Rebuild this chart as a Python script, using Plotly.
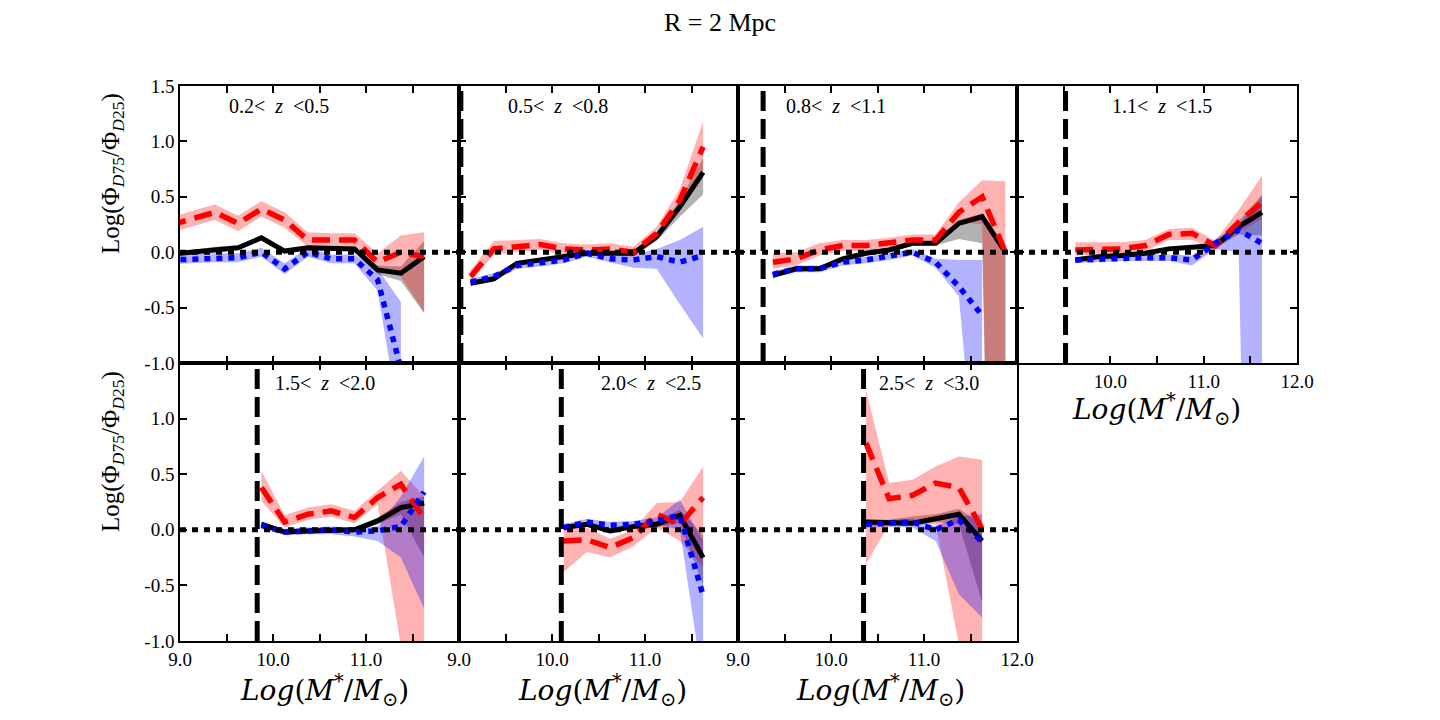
import plotly.graph_objects as go
from plotly.subplots import make_subplots

N = None

# stellar-mass bin centres, Log(M*/Msun)
mass = [8.875, 9.125, 9.375, 9.625, 9.875, 10.125, 10.375, 10.625, 10.875, 11.125, 11.375, 11.625, 11.875]

z_labels = ["0.2<\u2002<i>z</i>\u2002<0.5", "0.5<\u2002<i>z</i>\u2002<0.8", "0.8<\u2002<i>z</i>\u2002<1.1",
            "1.1<\u2002<i>z</i>\u2002<1.5", "1.5<\u2002<i>z</i>\u2002<2.0", "2.0<\u2002<i>z</i>\u2002<2.5",
            "2.5<\u2002<i>z</i>\u2002<3.0"]
z_label_x = [9.5, 9.5, 9.5, 10.0, 10.0, 10.5, 10.5]

# mass completeness limits (vertical dashed lines)
mass_limit = [N, 9.02, 9.27, 9.52, 9.83, 10.10, 10.35]

# all galaxies (black solid)
all_mid = [
    [-0.02, 0.00, 0.03, 0.04, 0.13, 0.01, 0.04, 0.03, 0.03, -0.16, -0.19, -0.04, N],
    [N, -0.28, -0.24, -0.10, -0.07, -0.04, -0.01, -0.01, -0.01, 0.14, 0.41, 0.72, N],
    [N, N, -0.21, -0.15, -0.15, -0.06, -0.01, 0.02, 0.08, 0.08, 0.26, 0.32, 0.00],
    [N, N, N, -0.07, -0.04, -0.03, -0.01, 0.03, 0.04, 0.06, 0.23, 0.36, N],
    [N, N, N, N, 0.05, -0.02, -0.01, 0.00, 0.00, 0.08, 0.20, 0.24, N],
    [N, N, N, N, N, 0.02, 0.05, -0.01, 0.03, 0.05, 0.13, -0.25, N],
    [N, N, N, N, N, N, 0.07, 0.06, 0.06, 0.10, 0.14, -0.10, N],
]
all_hi = [
    [0.00, 0.02, 0.05, 0.06, 0.15, 0.03, 0.06, 0.05, 0.05, -0.12, -0.13, 0.10, N],
    [N, -0.26, -0.22, -0.08, -0.05, -0.02, 0.01, 0.01, 0.01, 0.18, 0.47, 0.85, N],
    [N, N, -0.19, -0.13, -0.13, -0.04, 0.01, 0.04, 0.10, 0.10, 0.29, 0.35, 0.05],
    [N, N, N, -0.05, -0.02, -0.01, 0.01, 0.05, 0.06, 0.08, 0.28, 0.52, N],
    [N, N, N, N, 0.07, 0.00, 0.01, 0.02, 0.02, 0.11, 0.25, 0.30, N],
    [N, N, N, N, N, 0.04, 0.07, 0.01, 0.05, 0.08, 0.18, -0.05, N],
    [N, N, N, N, N, N, 0.09, 0.09, 0.12, 0.14, 0.19, 0.05, N],
]
all_lo = [
    [-0.04, -0.02, 0.01, 0.02, 0.11, -0.01, 0.02, 0.01, 0.01, -0.20, -0.26, -0.55, N],
    [N, -0.30, -0.26, -0.12, -0.09, -0.06, -0.03, -0.03, -0.03, 0.10, 0.32, 0.52, N],
    [N, N, -0.23, -0.17, -0.17, -0.08, -0.03, 0.00, 0.06, 0.06, 0.12, 0.08, -10.0],
    [N, N, N, -0.09, -0.06, -0.05, -0.03, 0.01, 0.02, 0.04, 0.16, 0.15, N],
    [N, N, N, N, 0.03, -0.04, -0.03, -0.02, -0.02, 0.05, 0.14, -0.25, N],
    [N, N, N, N, N, 0.00, 0.03, -0.03, 0.01, 0.02, 0.06, -0.50, N],
    [N, N, N, N, N, N, 0.05, 0.03, 0.04, 0.07, 0.05, -0.65, N],
]

# high-density selection (red dashed)
red_mid = [
    [0.24, 0.30, 0.36, 0.26, 0.39, 0.29, 0.11, 0.11, 0.11, -0.09, 0.00, -0.04, N],
    [N, -0.22, 0.03, 0.05, 0.07, 0.03, 0.02, 0.03, 0.00, 0.17, 0.47, 0.95, N],
    [N, N, -0.09, -0.06, 0.02, 0.06, 0.06, 0.08, 0.11, 0.11, 0.36, 0.50, 0.00],
    [N, N, N, 0.02, 0.03, 0.03, 0.06, 0.16, 0.17, 0.06, 0.27, 0.45, N],
    [N, N, N, N, 0.38, 0.07, 0.14, 0.17, 0.11, 0.29, 0.41, 0.10, N],
    [N, N, N, N, N, -0.10, -0.09, -0.16, -0.07, 0.14, 0.05, 0.29, N],
    [N, N, N, N, N, N, 0.78, 0.28, 0.31, 0.42, 0.38, 0.01, N],
]
red_hi = [
    [0.31, 0.37, 0.43, 0.33, 0.46, 0.36, 0.18, 0.17, 0.17, -0.01, 0.15, 0.18, N],
    [N, -0.16, 0.10, 0.11, 0.12, 0.08, 0.07, 0.08, 0.05, 0.23, 0.57, 1.18, N],
    [N, N, -0.01, 0.00, 0.08, 0.11, 0.11, 0.13, 0.16, 0.16, 0.45, 0.65, 0.64],
    [N, N, N, 0.09, 0.09, 0.09, 0.11, 0.21, 0.22, 0.10, 0.38, 0.69, N],
    [N, N, N, N, 0.53, 0.13, 0.20, 0.23, 0.17, 0.35, 0.53, 0.30, N],
    [N, N, N, N, N, 0.04, 0.02, -0.08, 0.00, 0.24, 0.25, 0.57, N],
    [N, N, N, N, N, N, 1.26, 0.42, 0.45, 0.57, 0.66, 0.63, N],
]
red_lo = [
    [0.17, 0.23, 0.29, 0.19, 0.32, 0.22, 0.05, 0.05, 0.05, -0.14, -0.22, -0.54, N],
    [N, -0.27, -0.02, 0.00, 0.02, -0.02, -0.02, -0.02, -0.04, 0.11, 0.38, 0.72, N],
    [N, N, -0.15, -0.12, -0.03, 0.01, 0.01, 0.03, 0.06, 0.06, 0.28, 0.25, -10.0],
    [N, N, N, -0.03, -0.02, -0.02, 0.01, 0.11, 0.11, 0.02, 0.18, 0.30, N],
    [N, N, N, N, 0.26, 0.02, 0.09, 0.12, 0.06, 0.23, -1.05, -1.05, N],
    [N, N, N, N, N, -0.38, -0.20, -0.25, -0.15, 0.02, -0.10, -0.34, N],
    [N, N, N, N, N, N, -0.31, 0.05, 0.05, 0.05, -1.03, -1.03, N],
]

# low-density selection (blue dotted)
blue_mid = [
    [-0.07, -0.06, -0.05, -0.05, 0.00, -0.15, 0.00, -0.06, -0.06, -0.25, -1.05, N, N],
    [N, -0.27, -0.22, -0.12, -0.10, -0.07, -0.01, -0.06, -0.07, -0.04, -0.09, -0.03, N],
    [N, N, -0.20, -0.15, -0.15, -0.09, -0.07, -0.04, 0.00, -0.09, -0.31, -0.57, N],
    [N, N, N, -0.07, -0.06, -0.05, -0.05, -0.05, -0.07, 0.08, 0.20, 0.08, N],
    [N, N, N, N, 0.04, -0.02, -0.01, 0.00, -0.02, -0.01, 0.03, 0.34, N],
    [N, N, N, N, N, 0.02, 0.07, 0.04, 0.05, 0.08, 0.13, -0.59, N],
    [N, N, N, N, N, N, 0.05, 0.06, 0.07, 0.00, 0.09, -0.11, N],
]
blue_hi = [
    [-0.03, -0.02, -0.01, -0.01, 0.04, -0.10, 0.04, -0.02, -0.02, -0.15, -0.45, N, N],
    [N, -0.24, -0.19, -0.09, -0.07, -0.04, 0.02, -0.02, -0.02, 0.03, 0.11, 0.23, N],
    [N, N, -0.17, -0.12, -0.12, -0.06, -0.04, -0.01, 0.03, -0.06, -0.07, -0.07, N],
    [N, N, N, -0.04, -0.03, -0.02, -0.02, -0.02, -0.03, 0.12, 0.25, 0.50, N],
    [N, N, N, N, 0.07, 0.01, 0.02, 0.03, 0.02, 0.03, 0.30, 0.66, N],
    [N, N, N, N, N, 0.05, 0.10, 0.07, 0.08, 0.11, 0.27, -0.10, N],
    [N, N, N, N, N, N, 0.08, 0.09, 0.10, 0.03, 0.12, 0.14, N],
]
blue_lo = [
    [-0.11, -0.10, -0.09, -0.09, -0.04, -0.20, -0.04, -0.10, -0.10, -0.35, -1.60, N, N],
    [N, -0.30, -0.25, -0.15, -0.13, -0.10, -0.04, -0.09, -0.14, -0.15, -0.47, -0.78, N],
    [N, N, -0.23, -0.18, -0.18, -0.12, -0.10, -0.07, -0.03, -0.14, -0.40, -2.70, N],
    [N, N, N, -0.10, -0.09, -0.08, -0.08, -0.08, -0.12, 0.03, 0.00, -10.0, N],
    [N, N, N, N, 0.01, -0.05, -0.04, -0.04, -0.06, -0.10, -0.25, -0.71, N],
    [N, N, N, N, N, -0.01, 0.04, 0.01, 0.02, 0.05, 0.00, -1.40, N],
    [N, N, N, N, N, N, 0.02, 0.03, 0.02, -0.10, -0.58, -0.79, N],
]

x_tickvals = [9.0, 9.5, 10.0, 10.5, 11.0, 11.5, 12.0]
y_tickvals = [-1.0, -0.5, 0.0, 0.5, 1.0, 1.5]
y_ticktext_top = ["-1.0", "-0.5", "0.0", "0.5", "1.0", "1.5"]
y_ticktext_bot = ["-1.0", "-0.5", "0.0", "0.5", "1.0", ""]

SERIF = "Liberation Serif"

panels = [(1, 1), (1, 2), (1, 3), (1, 4), (2, 1), (2, 2), (2, 3)]
col_px = [180, 459, 738, 1017, 1297]
row_px = {1: (86, 363), 2: (363, 641)}
W, H = 1440, 720

fig = make_subplots(rows=2, cols=4, horizontal_spacing=0, vertical_spacing=0)


def pick(xs, *arrs):
    idx = [i for i in range(len(xs)) if all(a[i] is not None for a in arrs)]
    return [xs[i] for i in idx], [[a[i] for i in idx] for a in arrs]


for p, (r, c) in enumerate(panels):
    # shaded uncertainty bands
    for lo, hi, fc in [(all_lo, all_hi, "rgba(0,0,0,0.3)"),
                       (red_lo, red_hi, "rgba(255,0,0,0.3)"),
                       (blue_lo, blue_hi, "rgba(0,0,255,0.3)")]:
        xs, (l, h) = pick(mass, lo[p], hi[p])
        fig.add_trace(go.Scatter(x=xs + xs[::-1], y=h + l[::-1], fill="toself",
                                 fillcolor=fc, line=dict(width=0), mode="lines",
                                 hoverinfo="skip", showlegend=False), row=r, col=c)
    # lines
    xs, (v,) = pick(mass, all_mid[p])
    fig.add_trace(go.Scatter(x=xs, y=v, mode="lines", line=dict(color="black", width=5),
                             showlegend=False), row=r, col=c)
    xs, (v,) = pick(mass, red_mid[p])
    fig.add_trace(go.Scatter(x=xs, y=v, mode="lines",
                             line=dict(color="red", width=5.5, dash="18px,9px"),
                             showlegend=False), row=r, col=c)
    xs, (v,) = pick(mass, blue_mid[p])
    fig.add_trace(go.Scatter(x=xs, y=v, mode="lines",
                             line=dict(color="blue", width=5.5, dash="6px,6px"),
                             showlegend=False), row=r, col=c)

    fig.add_hline(y=0, line=dict(color="black", width=5, dash="6px,6px"), row=r, col=c)
    if mass_limit[p] is not None:
        fig.add_vline(x=mass_limit[p], line=dict(color="black", width=5, dash="20px,8px"),
                      row=r, col=c)

    # axes
    x0, x1 = col_px[c - 1] / W, col_px[c] / W
    y0, y1 = 1 - row_px[r][1] / H, 1 - row_px[r][0] / H
    if p in (4, 5):
        xt = ["9.0", "", "10.0", "", "11.0", "", ""]
    elif p == 6:
        xt = ["9.0", "", "10.0", "", "11.0", "", "12.0"]
    elif p == 3:
        xt = ["", "", "10.0", "", "11.0", "", "12.0"]
    else:
        xt = [""] * 7
    fig.update_xaxes(domain=[x0, x1], range=[9, 12], tickvals=x_tickvals, ticktext=xt,
                     ticks="inside", ticklen=7, tickwidth=1.5, tickcolor="black",
                     mirror="allticks", showline=True, linecolor="black", linewidth=1.5,
                     showgrid=False, zeroline=False, automargin=False,
                     tickfont=dict(family=SERIF, size=19, color="black"),
                     row=r, col=c)
    if c == 1:
        yt = y_ticktext_top if r == 1 else y_ticktext_bot
    else:
        yt = [""] * 6
    fig.update_yaxes(domain=[y0, y1], range=[-1, 1.5], tickvals=y_tickvals, ticktext=yt,
                     ticks="inside", ticklen=7, tickwidth=1.5, tickcolor="black",
                     mirror="allticks", showline=True, linecolor="black", linewidth=1.5,
                     showgrid=False, zeroline=False, automargin=False,
                     tickfont=dict(family=SERIF, size=19, color="black"),
                     row=r, col=c)
    axn = "" if p == 0 else str((r - 1) * 4 + c)
    fig.add_annotation(x=z_label_x[p], y=1.32, xref="x" + axn, yref="y" + axn,
                       text=z_labels[p], showarrow=False, xanchor="left", yanchor="middle",
                       font=dict(family=SERIF, size=20, color="black"))

fig.update_xaxes(visible=False, automargin=False, row=2, col=4)
fig.update_yaxes(visible=False, automargin=False, row=2, col=4)

xlab = "<i>Log</i>(<i>M</i><sup>*</sup>/<i>M</i><sub>⊙</sub>)"
for cx, cy in [(324, 690), (602, 690), (880, 690), (1156, 409)]:
    fig.add_annotation(x=cx / W, y=1 - cy / H, xref="paper", yref="paper", text=xlab,
                       showarrow=False, xanchor="center", yanchor="middle",
                       font=dict(family="DejaVu Serif", size=28, color="black"))

ylab = "Log(Φ<sub><i>D</i>75</sub>/Φ<sub><i>D</i>25</sub>)"
for cy in [174, 452]:
    fig.add_annotation(x=112 / W, y=1 - cy / H, xref="paper", yref="paper", text=ylab,
                       showarrow=False, textangle=-90, xanchor="center", yanchor="middle",
                       font=dict(family=SERIF, size=25, color="black"))

fig.add_annotation(x=0.5, y=1 - 22 / H, xref="paper", yref="paper", text="R = 2 Mpc",
                   showarrow=False, xanchor="center", yanchor="middle",
                   font=dict(family=SERIF, size=26, color="black"))

fig.update_layout(width=W, height=H,
                  margin=dict(l=0, r=0, t=0, b=0, pad=0, autoexpand=False),
                  paper_bgcolor="white", plot_bgcolor="white", showlegend=False)

fig.write_html("out.html")
